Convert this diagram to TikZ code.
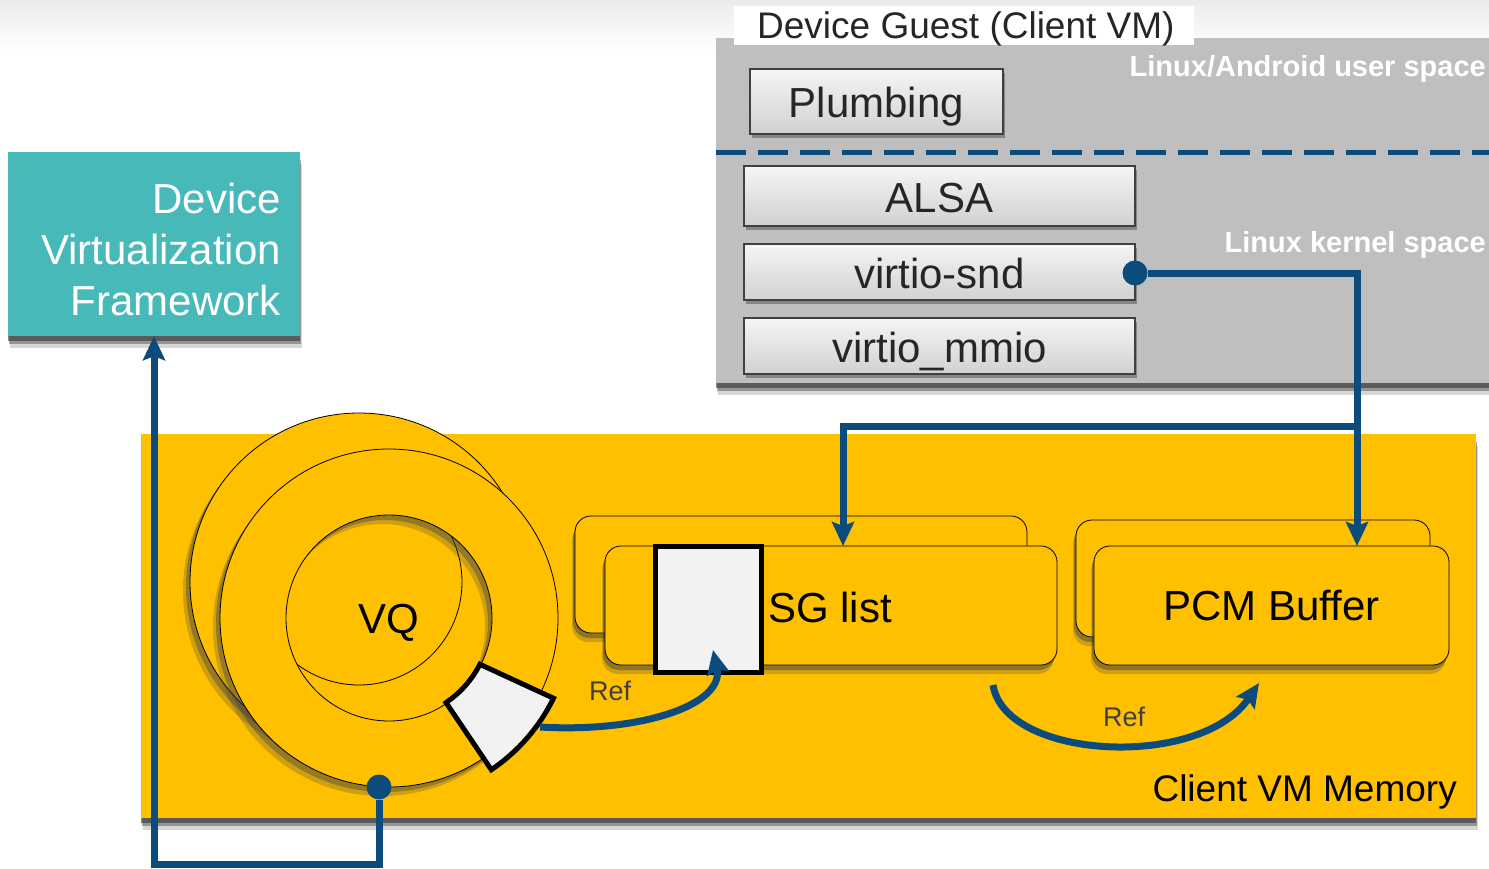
\documentclass[tikz,border=0pt]{standalone}
\usepackage{fontspec}
\setmainfont{Liberation Sans}
\usetikzlibrary{arrows.meta,shadows,calc}
\definecolor{vmyellow}{HTML}{FFC000}
\definecolor{dvfteal}{HTML}{47B9B9}
\definecolor{panelgray}{HTML}{BFBFBF}
\definecolor{linkblue}{HTML}{0B4C7D}
\definecolor{paperwhite}{HTML}{F2F2F2}
\definecolor{reftext}{HTML}{404040}
\begin{document}
\begin{tikzpicture}[x=1pt,y=-1pt,
  sh/.style={drop shadow={shadow xshift=2pt,shadow yshift=-12pt,opacity=.2,fill=black!80},
             drop shadow={shadow xshift=1pt,shadow yshift=-8pt,opacity=.4,fill=black!80},
             drop shadow={shadow xshift=0pt,shadow yshift=-5pt,opacity=.6,fill=black!80}},
  cardsh/.style={drop shadow={shadow xshift=-3pt,shadow yshift=-9pt,opacity=.25,fill=black!75},
                 drop shadow={shadow xshift=-2pt,shadow yshift=-5pt,opacity=.45,fill=black!75}},
  layerbox/.style={draw=black!75,line width=1.5pt,top color=black!4,bottom color=black!18,inner sep=0pt,
    text height=32pt,text depth=0pt,font=\fontsize{42}{50}\selectfont,text=black!85,
    drop shadow={shadow xshift=2pt,shadow yshift=-4pt,opacity=.45,fill=black!75}},
  memcard/.style={draw=black,line width=0.8pt,fill=vmyellow,rounded corners=16pt,inner sep=0pt,cardsh},
  conn/.style={draw=linkblue,line width=7pt},
  tip/.style={-{Stealth[length=24pt,width=22pt,inset=4pt]}},
  reflbl/.style={font=\fontsize{27}{30}\selectfont,text=reftext,inner sep=0pt},
  plain/.style={inner sep=0pt},
  ringline/.style={draw=black,line width=0.8pt},
  dot/.style={circle,fill=linkblue,minimum size=25pt,inner sep=0pt},
]
\useasboundingbox (0,0) rectangle (1489,868);
\shade[top color=black!8,bottom color=white] (0,0) rectangle (1489,50);

% Device Virtualization Framework
\node[fill=dvfteal,minimum width=292pt,minimum height=184pt,inner sep=0pt,sh] (dvf) at (154,244) {};
\node[plain,anchor=east,align=right,text=white,font=\fontsize{42}{51}\selectfont] (dvftext) at (281,249)
      {Device\\Virtualization\\Framework};

% Device guest panel
\node[fill=panelgray,minimum width=780pt,minimum height=345pt,anchor=north west,inner sep=0pt,sh] (guest) at (716,38) {};
\node[fill=white,anchor=north west,minimum width=460pt,minimum height=39pt,inner sep=0pt] (guestbox) at (734,6) {};
\node[plain,anchor=base west,font=\fontsize{37}{40}\selectfont,text=black!85] (guestlbl) at (757,38) {Device Guest (Client VM)};
\node[plain,anchor=base east,font=\bfseries\fontsize{29}{32}\selectfont,text=white] (userlbl) at (1486,76) {Linux/Android user space};
\node[plain,anchor=base east,font=\bfseries\fontsize{29}{32}\selectfont,text=white] (kernlbl) at (1486,252) {Linux kernel space};
\draw[linkblue,line width=5pt,dash pattern=on 30pt off 12pt] (716,152) -- (1489,152);

\node[layerbox,minimum width=253pt,minimum height=65pt] (plumb) at (876.5,101.5) {Plumbing};
\node[layerbox,minimum width=391pt,minimum height=60pt] (alsa) at (939.5,196) {ALSA};
\node[layerbox,minimum width=391pt,minimum height=56pt] (snd) at (939.5,272) {virtio-snd};
\node[layerbox,minimum width=391pt,minimum height=56pt] (mmio) at (939.5,346) {virtio\_mmio};

% Client VM memory
\node[fill=vmyellow,minimum width=1335pt,minimum height=384pt,anchor=north west,inner sep=0pt,sh] (mem) at (141,434) {};
\node[plain,anchor=base east,font=\fontsize{37}{40}\selectfont] (memlbl) at (1457,801) {Client VM Memory};

% VQ rings
\coordinate (vqc) at (389,618);
\coordinate (vqb) at (359,582);
\fill[black!75,opacity=.25] ($(vqb)+(-7,9)$) circle (169);
\fill[black!75,opacity=.4] ($(vqb)+(-4,5)$) circle (169);
\path[ringline,fill=vmyellow] (vqb) circle (169);
\draw[ringline] (vqb) circle (103);
\fill[black!75,opacity=.25,even odd rule] ($(vqc)+(-7,9)$) circle (169) ($(vqc)+(-7,9)$) circle (103);
\fill[black!75,opacity=.4,even odd rule] ($(vqc)+(-4,5)$) circle (169) ($(vqc)+(-4,5)$) circle (103);
\path[ringline,fill=vmyellow,even odd rule] (vqc) circle (169) (vqc) circle (103);
\node[font=\fontsize{42}{44}\selectfont] (vq) at (389,623) {VQ};
\filldraw[fill=paperwhite,draw=black,line width=5pt,line join=miter]
  ($(vqc)+(27:102)$) coordinate (wedgein) arc[start angle=27,end angle=56,radius=102]
  -- ($(vqc)+(56:183)$) arc[start angle=56,end angle=26,radius=183] coordinate (wedgeout) -- cycle;
\coordinate (wedgeref) at (540,727);

% SG list and PCM buffer
\node[memcard,minimum width=452pt,minimum height=117pt] (sgb) at (801,574.5) {};
\node[memcard,minimum width=452pt,minimum height=119pt] (sgf) at (831,605.5) {};
\node[fill=paperwhite,draw=black,line width=5pt,minimum width=106pt,minimum height=126pt,inner sep=0pt] (sgent) at (708,609) {};
\node[plain,anchor=base west,font=\fontsize{42}{44}\selectfont] (sglbl) at (768,622) {SG list};
\node[memcard,minimum width=354pt,minimum height=117pt] (pcmb) at (1253,578.5) {};
\node[memcard,minimum width=355pt,minimum height=119pt,font=\fontsize{42}{44}\selectfont] (pcmf) at (1271.5,605.5) {PCM Buffer};

% dots
\node[dot] (snddot) at (1135,273) {};
\node[dot] (vqdot) at (379,787) {};

% connectors
\coordinate (pcmin) at (1357,546);
\coordinate (junction) at (1357,426);
\coordinate (sgin) at (843,546);
\coordinate (vqlow) at (379,864);
\coordinate (sgrefend) at (713,650);
\coordinate (sgout) at (993,685);
\coordinate (pcmrefend) at (1259,683);
\draw[conn,tip] (snddot.east) -| (pcmin);
\draw[conn,tip] (junction) -| (sgin);
\draw[conn,tip] (vqdot.south) -- (vqlow) -| (dvf.south);
\draw[conn,tip] (wedgeref) .. controls (640,733) and (725,705) .. (sgrefend);
\draw[conn,tip] (sgout) .. controls (1005,760) and (1200,770) .. (pcmrefend);
\node[reflbl,anchor=base west] (ref1) at (589,700) {Ref};
\node[reflbl,anchor=base west] (ref2) at (1103,726) {Ref};
\end{tikzpicture}
\end{document}
